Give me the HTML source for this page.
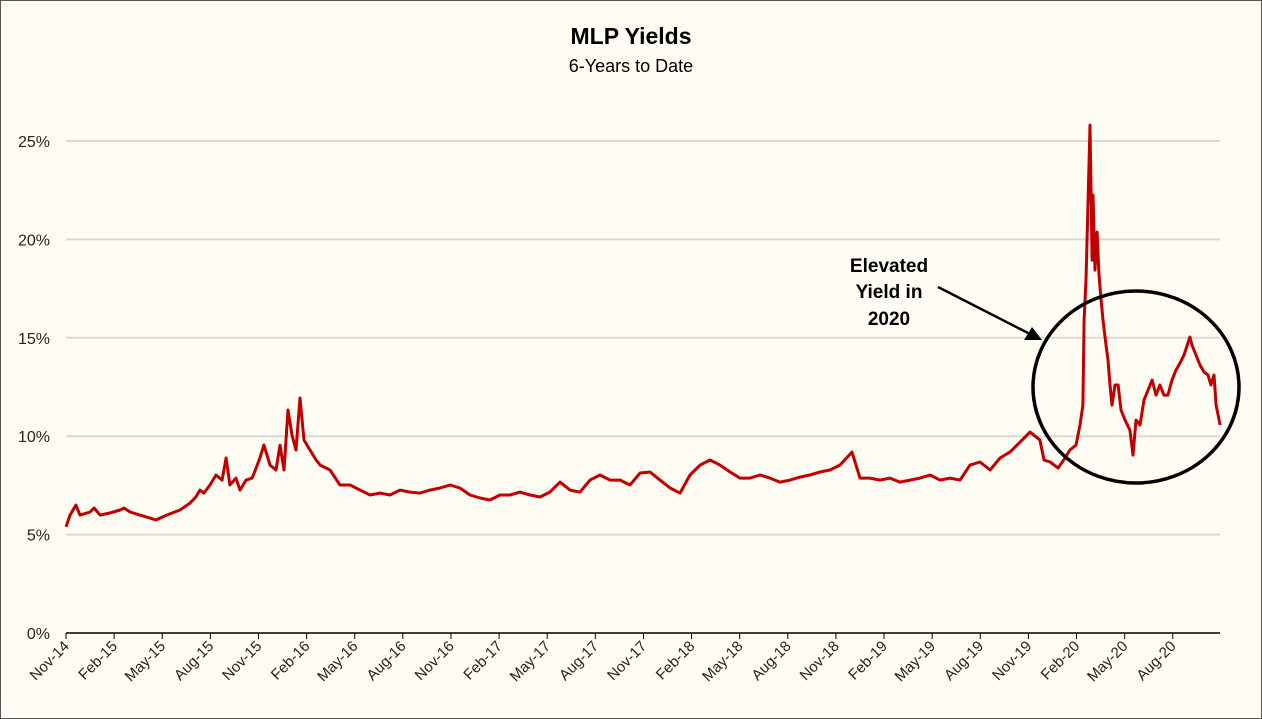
<!DOCTYPE html>
<html><head><meta charset="utf-8"><style>
html,body{margin:0;padding:0;background:#fffdf3;}
svg{display:block;font-family:"Liberation Sans",Calibri,sans-serif;}
</style></head><body>
<svg id="chart" width="1262" height="719" viewBox="0 0 1262 719">
<rect x="0.5" y="0.5" width="1261" height="718" fill="#fffdf3" stroke="#555"/>
<text x="631" y="44" text-anchor="middle" font-size="23" font-weight="bold">MLP Yields</text>
<text x="631" y="72" text-anchor="middle" font-size="18">6-Years to Date</text>
<g id="grid"></g><g id="yticks"></g><g id="xticks"></g>
<path id="series" fill="none" stroke="#c00000" stroke-width="3" stroke-linejoin="round"/>
<g font-size="19" font-weight="bold" text-anchor="middle">
<text x="889" y="272">Elevated</text>
<text x="889" y="298">Yield in</text>
<text x="889" y="325">2020</text>
</g>
<line x1="938" y1="287" x2="1030" y2="334" stroke="#000" stroke-width="2.5"/>
<polygon points="1042,340 1024,340 1032,327" fill="#000"/>
<ellipse cx="1136" cy="387" rx="103" ry="96" fill="none" stroke="#000" stroke-width="3.5"/>
</svg>
<script>
const monthIdx=[0,0.25,0.62,0.87,1.5,1.75,2.12,2.74,3.37,3.62,3.99,4.61,5.24,5.61,5.99,6.48,7.11,7.73,8.1,8.35,8.6,8.98,9.35,9.73,9.98,10.22,10.6,10.85,11.22,11.6,11.85,12.09,12.34,12.72,13.09,13.34,13.59,13.84,14.09,14.34,14.59,14.84,15.21,15.59,15.84,16.46,17.08,17.71,18.33,18.95,19.58,20.2,20.82,21.45,22.07,22.69,23.32,23.94,24.56,25.19,25.81,26.43,27.06,27.68,28.3,28.93,29.55,30.17,30.8,31.42,32.04,32.67,33.29,33.92,34.54,35.16,35.79,36.41,37.03,37.66,38.28,38.9,39.53,40.15,40.77,41.4,42.02,42.64,43.27,43.89,44.51,45.14,45.76,46.38,47.01,47.63,48.25,49,49.5,50.12,50.75,51.37,51.99,52.62,53.24,53.87,54.49,55.11,55.74,56.36,56.98,57.61,58.23,58.85,59.48,60.1,60.72,60.97,61.35,61.85,62.28,62.59,62.97,63.22,63.4,63.47,63.59,63.72,63.84,63.97,64.03,64.15,64.28,64.4,64.53,64.65,64.84,64.96,65.09,65.21,65.4,65.59,65.77,66.02,66.33,66.52,66.71,66.96,67.21,67.46,67.71,67.96,68.2,68.45,68.7,68.95,69.2,69.45,69.7,70.07,70.2,70.45,70.7,70.95,71.2,71.38,71.57,71.7,71.95];
const yields=[5.39,5.99,6.5,5.99,6.15,6.35,5.99,6.1,6.25,6.35,6.15,5.99,5.84,5.74,5.89,6.05,6.25,6.6,6.91,7.26,7.11,7.52,8.03,7.77,8.89,7.52,7.87,7.26,7.77,7.87,8.38,8.89,9.55,8.53,8.28,9.55,8.28,11.33,10.06,9.3,11.94,9.8,9.3,8.79,8.53,8.28,7.52,7.52,7.26,7.01,7.11,7.01,7.26,7.16,7.11,7.26,7.37,7.52,7.37,7.01,6.86,6.76,7.01,7.01,7.16,7.01,6.91,7.16,7.67,7.26,7.16,7.77,8.03,7.77,7.77,7.52,8.13,8.18,7.77,7.37,7.11,8.03,8.53,8.79,8.53,8.18,7.87,7.87,8.03,7.87,7.67,7.77,7.92,8.03,8.18,8.28,8.53,9.19,7.87,7.87,7.77,7.87,7.67,7.77,7.87,8.03,7.77,7.87,7.77,8.53,8.69,8.28,8.89,9.19,9.7,10.21,9.8,8.79,8.69,8.38,8.89,9.3,9.55,10.57,11.58,15.9,17.93,22.0,25.81,18.95,22.25,18.44,20.37,18.19,16.92,15.9,14.63,13.87,12.6,11.58,12.6,12.6,11.33,10.82,10.31,9.04,10.82,10.57,11.84,12.34,12.85,12.09,12.6,12.09,12.09,12.85,13.36,13.72,14.12,15.04,14.63,14.12,13.62,13.26,13.11,12.6,13.11,11.58,10.57];
const yTicks=[0,5,10,15,20,25];
const xLabels=["Nov-14","Feb-15","May-15","Aug-15","Nov-15","Feb-16","May-16","Aug-16","Nov-16","Feb-17","May-17","Aug-17","Nov-17","Feb-18","May-18","Aug-18","Nov-18","Feb-19","May-19","Aug-19","Nov-19","Feb-20","May-20","Aug-20"];

const NS="http://www.w3.org/2000/svg";
const X0=66,X1=1220,Y0=633,Y25=141;
const xs=m=>X0+m*16.04;
const ys=v=>Y0-(v/25)*(Y0-Y25);
const mk=(t,a,p)=>{const e=document.createElementNS(NS,t);for(const k in a)e.setAttribute(k,a[k]);p.appendChild(e);return e;};
const grid=document.getElementById('grid'),yt=document.getElementById('yticks'),xt=document.getElementById('xticks');
yTicks.forEach(v=>{
  if(v>0){const l=mk('line',{x1:X0,x2:X1,y1:ys(v),y2:ys(v),stroke:'#d9d9d9','stroke-width':2},grid);
  
  }
  const t=mk('text',{x:50,y:ys(v)+6,'text-anchor':'end','font-size':16,fill:'#222'},yt);
  t.textContent=v+'%';
  
  
});
const ax=mk('line',{x1:X0,x2:X1,y1:Y0,y2:Y0,stroke:'#000','stroke-width':1.5},xt);


xLabels.forEach((s,i)=>{
  const x=xs(i*3);
  const tk=mk('line',{x1:x,x2:x,y1:Y0,y2:Y0+6,stroke:'#000','stroke-width':1},xt);
  
  
  const t=mk('text',{x:x+4,y:Y0+14,'text-anchor':'end','font-size':15,fill:'#222',transform:`rotate(-45 ${x+4} ${Y0+14})`},xt);
  t.textContent=s;
  
  
});
document.getElementById('series').setAttribute('d',monthIdx.map((m,i)=>(i?'L':'M')+xs(m).toFixed(1)+','+ys(yields[i]).toFixed(1)).join(''));
</script>
</body></html>
